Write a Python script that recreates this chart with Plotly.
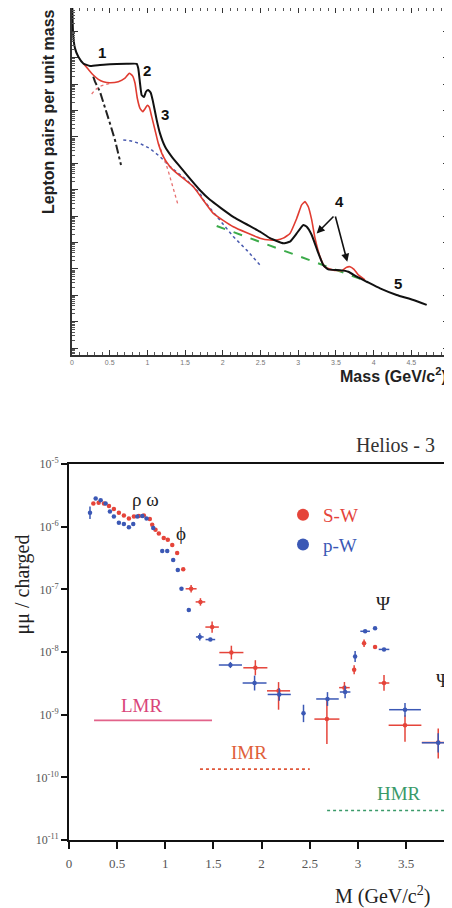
import plotly.graph_objects as go

# ---------------- Top panel: lepton pair mass spectrum (schematic) ----------------
total_x = [0.004, 0.009, 0.017, 0.040, 0.084, 0.150, 0.239, 0.371, 0.504, 0.725, 0.858, 0.879, 0.902, 0.924,
           0.955, 0.981, 1.012, 1.044, 1.070, 1.123, 1.167, 1.233, 1.322, 1.432, 1.542, 1.698, 1.830,
           2.139, 2.493, 2.626, 2.802, 2.891, 2.980, 3.068, 3.113, 3.179, 3.267, 3.333, 3.399, 3.554,
           3.665, 3.776, 3.908, 4.085, 4.306, 4.527, 4.704]
total_y = [8.0e12, 2.0e12, 6.3e11, 2.24e11, 1.07e11, 6.0e10, 4.8e10, 5.2e10, 5.6e10, 5.8e10, 5.8e10, 3.9e10,
           1.07e10, 3.8e9, 3.2e9, 5.1e9, 5.9e9, 4.7e9, 2.45e9, 4.4e8, 1.35e8, 4.3e7, 1.78e7, 7.4e6, 3.1e6,
           9.5e5, 4.1e5, 9.3e4, 2.57e4, 1.45e4, 9.3e3, 1.07e4, 2.19e4, 4.6e4, 3.9e4, 1.9e4, 3.9e3, 1.38e3,
           955, 891, 776, 501, 324, 182, 102, 66, 43]

red_x = [0.150, 0.216, 0.282, 0.349, 0.415, 0.504, 0.614, 0.703, 0.760, 0.805, 0.836, 0.866, 0.902, 0.938,
         0.972, 0.999, 1.025, 1.057, 1.101, 1.145, 1.211, 1.300, 1.389, 1.609, 1.874, 2.139, 2.493, 2.626,
         2.715, 2.802, 2.891, 2.980, 3.046, 3.090, 3.134, 3.179, 3.223, 3.289, 3.355, 3.466, 3.577, 3.643,
         3.687, 3.740, 3.797, 3.886]
red_y = [6.0e10, 3.6e10, 2.19e10, 1.51e10, 1.23e10, 1.12e10, 1.23e10, 1.66e10, 2.57e10, 2.0e10, 1.07e10,
         2.9e9, 1.2e9, 8.9e8, 1.2e9, 1.58e9, 1.32e9, 5.8e8, 1.82e8, 5.6e7, 1.78e7, 7.4e6, 4.2e6, 1.29e6,
         1.26e5, 3.9e4, 1.45e4, 1.23e4, 1.23e4, 1.45e4, 2.19e4, 8.1e4, 2.63e5, 3.5e5, 2.24e5, 7.1e4, 1.45e4,
         2.9e3, 1.15e3, 891, 851, 1.15e3, 1.2e3, 955, 589, 380]

rho_x = [0.261, 0.305, 0.371, 0.460, 0.530]
rho_y = [4.2e9, 5.9e9, 8.3e9, 1.0e10, 1.1e10]

rhotail_x = [1.145, 1.207, 1.273, 1.326, 1.379, 1.406]
rhotail_y = [5.6e7, 2.04e7, 5.5e6, 1.78e6, 5.2e5, 2.63e5]

dalitz_x = [0.282, 0.305, 0.371, 0.438, 0.504, 0.570, 0.614, 0.650]
dalitz_y = [1.9e10, 1.23e10, 5.1e9, 1.38e9, 3.2e8, 7.6e7, 2.4e7, 8.5e6]

charm_x = [0.680, 0.769, 0.902, 1.034, 1.167, 1.300, 1.521, 1.698, 1.741, 1.874, 2.139, 2.317, 2.493]
charm_y = [7.6e7, 7.1e7, 5.6e7, 3.6e7, 1.78e7, 7.4e6, 2.3e6, 7.2e5, 4.1e5, 1.41e5, 1.66e4, 5.1e3, 1.38e3]

dy_x = [1.919, 3.863]
dy_y = [4.2e4, 380]

# ---------------- Bottom panel: Helios-3 data ----------------
sw_x = [0.253, 0.308, 0.363, 0.415, 0.466, 0.518, 0.570, 0.622, 0.674, 0.725, 0.777, 0.839, 0.864, 0.898,
        0.933, 0.984, 1.026, 1.072, 1.123, 1.186, 1.268, 1.365, 1.486, 1.686, 1.935, 2.176, 2.678, 2.860,
        2.961, 3.064, 3.178, 3.271, 3.489, 3.834]
sw_y = [2.34e-6, 2.40e-6, 2.34e-6, 2.14e-6, 1.91e-6, 1.66e-6, 1.51e-6, 1.35e-6, 1.45e-6, 1.48e-6, 1.51e-6,
        1.32e-6, 1.07e-6, 8.9e-7, 7.8e-7, 6.6e-7, 6.2e-7, 5.1e-7, 3.8e-7, 2.1e-7, 1.02e-7, 6.3e-8, 2.5e-8,
        9.8e-9, 5.6e-9, 2.4e-9, 8.5e-10, 2.7e-9, 5.2e-9, 1.38e-8, 1.20e-8, 3.2e-9, 6.8e-10, 3.6e-10]
sw_xerr = [0] * 20 + [0.057, 0.05, 0.07, 0.125, 0.125, 0.12, 0.13, 0.055, 0, 0, 0, 0.055, 0.17, 0.17]
sw_yerr_up = [0] * 20 + [1.5e-8, 9.3e-9, 5.8e-9, 2.8e-9, 1.8e-9, 9.1e-10, 8.5e-10, 6.2e-10, 9.5e-10,
                         2.0e-9, 0, 1.1e-9, 3.0e-10, 2.4e-10]
sw_yerr_dn = [0] * 20 + [1.3e-8, 8.1e-9, 4.7e-9, 2.2e-9, 1.35e-9, 1.2e-9, 5.1e-10, 5.0e-10, 7.7e-10,
                         1.8e-9, 0, 8.0e-10, 3.1e-10, 1.6e-10]

pw_x = [0.218, 0.277, 0.329, 0.380, 0.425, 0.466, 0.518, 0.570, 0.622, 0.667, 0.709, 0.761, 0.805, 0.875,
        0.968, 1.020, 1.082, 1.130, 1.168, 1.244, 1.358, 1.468, 1.676, 1.927, 2.183, 2.435, 2.684, 2.867,
        2.971, 3.075, 3.178, 3.271, 3.489, 3.834]
pw_y = [1.66e-6, 2.82e-6, 2.63e-6, 2.34e-6, 1.74e-6, 1.45e-6, 1.15e-6, 1.10e-6, 9.8e-7, 1.10e-6, 1.45e-6,
        1.48e-6, 1.35e-6, 9.5e-7, 4.1e-7, 4.1e-7, 2.95e-7, 2.04e-7, 1.02e-7, 4.7e-8, 1.74e-8, 1.58e-8,
        6.2e-9, 3.2e-9, 2.1e-9, 1.05e-9, 1.78e-9, 2.3e-9, 8.5e-9, 2.14e-8, 2.4e-8, 1.10e-8, 1.2e-9, 3.55e-10]
pw_xerr = [0] * 20 + [0.04, 0.05, 0.12, 0.124, 0.12, 0, 0.117, 0.055, 0, 0.05, 0, 0.055, 0.165, 0.17]
pw_yerr_up = [4.3e-7] + [0] * 19 + [2.6e-9, 0, 7.4e-10, 1.0e-9, 5.4e-10, 3.9e-10, 5.1e-10, 5.9e-10,
                                    1.9e-9, 0, 0, 0, 3.4e-10, 1.5e-10]
pw_yerr_dn = [3.4e-7] + [0] * 19 + [2.2e-9, 0, 6.6e-10, 7.7e-10, 4.3e-10, 2.9e-10, 4.0e-10, 4.7e-10,
                                    1.6e-9, 0, 0, 0, 2.7e-10, 1.06e-10]

region_names = ["LMR", "IMR", "HMR"]
region_x0 = [0.26, 1.36, 2.68]
region_x1 = [1.485, 2.50, 4.10]
region_level = [8.1e-10, 1.35e-10, 2.95e-11]

RED = "#e5443a"
BLUE = "#3b58b5"
SANS = "Liberation Sans, Arial, sans-serif"
SERIF = "Liberation Serif, Times New Roman, serif"

# page body adds an 8px margin; figure is sized/positioned to compensate
OFF = 8
W, H = 444, 900


def px(sx):
    return (sx - OFF) / W


def py(sy):
    return 1 - (sy - OFF) / H


fig = go.Figure()

# top panel curves
fig.add_trace(go.Scatter(x=dalitz_x, y=dalitz_y, mode="lines", line=dict(color="#222", width=2, dash="dashdot"),
                         showlegend=False, xaxis="x", yaxis="y"))
fig.add_trace(go.Scatter(x=charm_x, y=charm_y, mode="lines", line=dict(color="#4b5cb0", width=1.5, dash="dot"),
                         showlegend=False, xaxis="x", yaxis="y"))
fig.add_trace(go.Scatter(x=dy_x, y=dy_y, mode="lines", line=dict(color="#3cab4a", width=2, dash="dash"),
                         showlegend=False, xaxis="x", yaxis="y"))
fig.add_trace(go.Scatter(x=rho_x, y=rho_y, mode="lines", line=dict(color="#e77070", width=1.3, dash="dot"),
                         showlegend=False, xaxis="x", yaxis="y"))
fig.add_trace(go.Scatter(x=rhotail_x, y=rhotail_y, mode="lines", line=dict(color="#e77070", width=1.3, dash="dot"),
                         showlegend=False, xaxis="x", yaxis="y"))
fig.add_trace(go.Scatter(x=red_x, y=red_y, mode="lines", line=dict(color="#e03c31", width=1.6, shape="spline", smoothing=0.4),
                         showlegend=False, xaxis="x", yaxis="y"))
fig.add_trace(go.Scatter(x=total_x, y=total_y, mode="lines", line=dict(color="#111", width=2, shape="spline", smoothing=0.4),
                         showlegend=False, xaxis="x", yaxis="y"))

# bottom panel data
fig.add_trace(go.Scatter(
    x=sw_x, y=sw_y, mode="markers", name='<span style="color:#e5443a">S-W</span>',
    marker=dict(color=RED, size=4.5), legendgroup="sw",
    error_x=dict(type="data", array=sw_xerr, color=RED, thickness=1.5, width=0),
    error_y=dict(type="data", symmetric=False, array=sw_yerr_up, arrayminus=sw_yerr_dn, color=RED, thickness=1.5, width=0),
    xaxis="x2", yaxis="y2"))
fig.add_trace(go.Scatter(
    x=pw_x, y=pw_y, mode="markers", name='<span style="color:#3b58b5">p-W</span>',
    marker=dict(color=BLUE, size=4.5), legendgroup="pw",
    error_x=dict(type="data", array=pw_xerr, color=BLUE, thickness=1.5, width=0),
    error_y=dict(type="data", symmetric=False, array=pw_yerr_up, arrayminus=pw_yerr_dn, color=BLUE, thickness=1.5, width=0),
    xaxis="x2", yaxis="y2"))

region_line_colors = ["#e2638a", "#e0573a", "#3a9a6a"]
region_text_colors = ["#d9457a", "#e0603a", "#3a9a6a"]
region_dash = ["solid", "dot", "dot"]
region_text_x = [0.763, 1.864, 3.427]
region_text_y = [-8.85, -9.61, -10.25]
for i, nm in enumerate(region_names):
    fig.add_trace(go.Scatter(x=[region_x0[i], region_x1[i]], y=[region_level[i], region_level[i]], mode="lines",
                             line=dict(color=region_line_colors[i], width=1.6, dash=region_dash[i]),
                             showlegend=False, xaxis="x2", yaxis="y2"))

annotations = []
# curve numbers (top)
for t, xx, yy in [("1", 0.394, 11.19), ("2", 0.999, 10.53), ("3", 1.233, 8.83), ("4", 3.554, 5.54), ("5", 4.328, 2.45)]:
    annotations.append(dict(text=f"<b>{t}</b>", x=xx, y=yy, xref="x", yref="y", showarrow=False,
                            xanchor="center", yanchor="middle",
                            font=dict(family=SANS, size=15, color="#111")))
# arrows for label 4
for tx, ty in [(3.245, 4.34), (3.651, 3.27)]:
    annotations.append(dict(text="", x=tx, y=ty, ax=3.488, ay=5.04, xref="x", yref="y", axref="x", ayref="y",
                            showarrow=True, arrowhead=2, arrowsize=1, arrowwidth=1.6, arrowcolor="#111"))


def paper_text(text, sx, sy, family, size, color="#222", angle=0, xanchor="center"):
    return dict(text=text, x=px(sx), y=py(sy), xref="paper", yref="paper", showarrow=False,
                xanchor=xanchor, yanchor="middle", textangle=angle, font=dict(family=family, size=size, color=color))


annotations += [
    paper_text("<b>Lepton pairs per unit mass</b>", 49, 112, SANS, 16, angle=-90),
    paper_text("<b>Mass (GeV/c<sup>2</sup>)</b>", 393, 375, SANS, 16),
    paper_text("Helios - 3", 395, 445, SERIF, 20, color="#333"),
    paper_text("μμ / charged", 8, 585, SERIF, 20, angle=-90, xanchor="left"),
    paper_text("M (GeV/c<sup>2</sup>)", 382, 895, SERIF, 20),
]
for t, xx, yy in [("ρ ω", 0.794, -5.559), ("ϕ", 1.163, -6.107), ("Ψ", 3.264, -7.23), ("Ψ'", 3.90, -8.45)]:
    annotations.append(dict(text=t, x=xx, y=yy, xref="x2", yref="y2", showarrow=False, xanchor="center",
                            yanchor="middle", font=dict(family=SERIF, size=19, color="#222")))
for i, nm in enumerate(region_names):
    annotations.append(dict(text=nm, x=region_text_x[i], y=region_text_y[i], xref="x2", yref="y2", showarrow=False,
                            xanchor="center", yanchor="middle",
                            font=dict(family=SERIF, size=19, color=region_text_colors[i])))

fig.update_layout(
    width=W, height=H, margin=dict(l=0, r=0, t=0, b=0, autoexpand=False),
    paper_bgcolor="white", plot_bgcolor="white",
    showlegend=True,
    legend=dict(x=px(283), y=py(496), xanchor="left", yanchor="top", bgcolor="rgba(0,0,0,0)",
                font=dict(family=SERIF, size=19), itemsizing="constant", tracegroupgap=2),
    xaxis=dict(domain=[px(72), px(449)], range=[0, 5], anchor="y", dtick=0.5, tick0=0,
               showline=True, linecolor="#333", linewidth=1.5, mirror="allticks", ticks="inside", ticklen=5,
               tickcolor="#333", showgrid=False, zeroline=False,
               tickfont=dict(family=SANS, size=7, color="#777"),
               minor=dict(ticks="inside", ticklen=3, dtick=0.1, tickcolor="#555", showgrid=False)),
    yaxis=dict(domain=[py(355), 1.0], type="log", range=[-0.265, 12.88], anchor="x",
               showline=True, linecolor="#333", linewidth=1.5, mirror="allticks", ticks="inside", ticklen=6,
               tickcolor="#333", showgrid=False, zeroline=False, showticklabels=False, dtick=1,
               minor=dict(ticks="inside", ticklen=3, tickcolor="#555", showgrid=False)),
    xaxis2=dict(domain=[px(69), 1.0], range=[0, 3.977], anchor="y2", dtick=0.5, tick0=0,
                showline=True, linecolor="#111", linewidth=2.2, mirror=True, ticks="outside", ticklen=7,
                tickwidth=2, tickcolor="#111", showgrid=False, zeroline=False, ticklabelstandoff=3,
                tickfont=dict(family=SERIF, size=13, color="#555")),
    yaxis2=dict(domain=[py(840), py(464)], type="log", range=[-11, -5], anchor="x2",
                showline=True, linecolor="#111", linewidth=2, ticks="outside", ticklen=6, tickwidth=2,
                tickcolor="#111", showgrid=False, zeroline=False,
                tickvals=[1e-11, 1e-10, 1e-9, 1e-8, 1e-7, 1e-6, 1e-5],
                ticktext=["10<sup>-11</sup>", "10<sup>-10</sup>", "10<sup>-9</sup>", "10<sup>-8</sup>",
                          "10<sup>-7</sup>", "10<sup>-6</sup>", "10<sup>-5</sup>"],
                tickfont=dict(family=SERIF, size=12, color="#555")),
    annotations=annotations,
)

fig.write_html("out.html")
